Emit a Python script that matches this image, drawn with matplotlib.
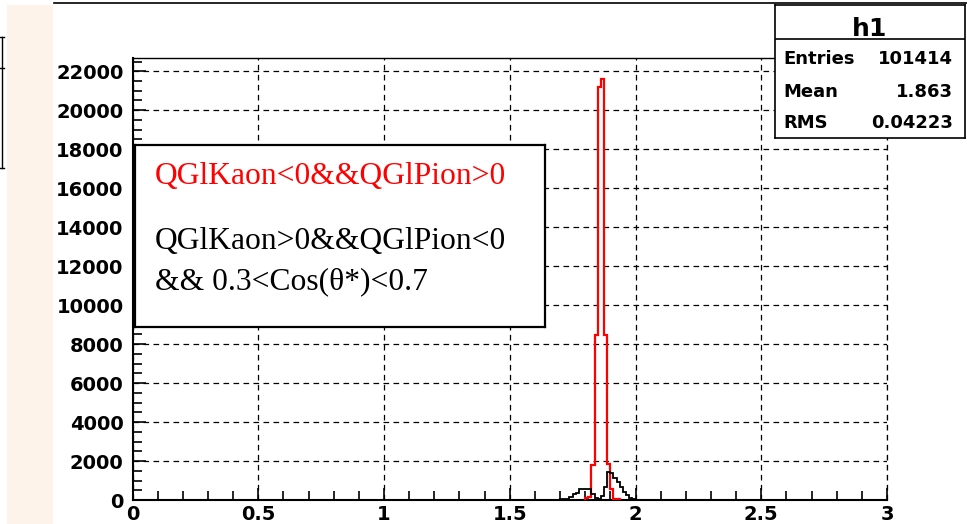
import numpy as np
import matplotlib
matplotlib.use("Agg")
import matplotlib.pyplot as plt
from matplotlib.patches import Rectangle
from matplotlib.ticker import MultipleLocator

W, H = 967, 524
BIN_W = 0.0125

# red: QGlKaon<0&&QGlPion>0, counts per bin from RED_X0
RED_X0 = 1.8
red_counts = [80, 150, 1800, 8450, 21200, 21600, 8450, 1850, 560, 60, 40]
# black: QGlKaon>0&&QGlPion<0 && 0.3<Cos(theta*)<0.7, counts per bin from BLK_X0
BLK_X0 = 1.6625
blk_counts = [20, 25, 25, 30, 35, 60, 150, 330, 380, 540, 560, 550, 540, 330, 100, 30,
              220, 650, 1460, 1380, 1150, 930, 650, 430, 260, 110, 40, 15]

xticks = [0, 0.5, 1, 1.5, 2, 2.5, 3]
xlabels = ["0", "0.5", "1", "1.5", "2", "2.5", "3"]
yticks = list(range(0, 22001, 2000))

stat_names = ["Entries", "Mean", "RMS"]
stat_values = ["101414", "1.863", "0.04223"]
legend_red = "QGlKaon<0&&QGlPion>0"
legend_blk = ["QGlKaon>0&&QGlPion<0", "&& 0.3<Cos(\u03b8*)<0.7"]

fig = plt.figure(figsize=(W / 100, H / 100), dpi=100)

# background decorations in pixel coords
bg = fig.add_axes([0, 0, 1, 1])
bg.set_xlim(0, W); bg.set_ylim(H, 0); bg.axis("off")
bg.add_patch(Rectangle((7, 5), 46, H - 5, color="#fdf3eb", lw=0))
bg.plot([54, W], [3, 3], color="black", lw=1.2)
bg.plot([2, 2], [37, 168], color="black", lw=1.0)
bg.plot([0, 4], [37, 37], color="black", lw=1.0)
bg.plot([0, 4], [68, 68], color="black", lw=1.0)
bg.plot([0, 4], [168, 168], color="black", lw=1.0)

# main histogram frame
ax = fig.add_axes([132.5 / W, 1 - 500 / H, (887 - 132.5) / W, (500 - 58) / H])
red_edges = RED_X0 + BIN_W * np.arange(len(red_counts) + 1)
blk_edges = BLK_X0 + BIN_W * np.arange(len(blk_counts) + 1)
ax.stairs(red_counts, red_edges, color="#ff0000", lw=1.6, zorder=3)
ax.stairs(blk_counts, blk_edges, color="black", lw=1.3, zorder=4)
ax.set_xlim(0, 3); ax.set_ylim(0, 22680)
ax.set_xticks(xticks); ax.set_xticklabels(xlabels)
ax.set_yticks(yticks); ax.set_yticklabels([str(v) for v in yticks])
ax.xaxis.set_minor_locator(MultipleLocator(0.1))
ax.yaxis.set_minor_locator(MultipleLocator(500))
ax.tick_params(which="both", direction="in", top=False, right=False, width=1.2)
ax.tick_params(which="major", length=9)
ax.tick_params(which="minor", length=6.5)
ax.tick_params(axis="y", pad=6.5)
ax.tick_params(axis="x", pad=3.5)
for lab in ax.get_xticklabels() + ax.get_yticklabels():
    lab.set_fontweight("bold"); lab.set_fontsize(14)
ax.grid(True, which="major", color="black", ls=(0, (4.5, 3.5)), lw=0.9)
ax.axvline(3, color="black", ls=(0, (4.5, 3.5)), lw=0.9, clip_on=False)
ax.spines["left"].set_linewidth(1.5)
ax.spines["bottom"].set_linewidth(1.5)
ax.spines["top"].set_linewidth(1.0)
ax.spines["right"].set_visible(False)

# legend box
lg = fig.add_axes([135 / W, 1 - 327 / H, 410 / W, 182 / H])
lg.set_xlim(135, 545); lg.set_ylim(327, 145)
lg.set_xticks([]); lg.set_yticks([])
for s in lg.spines.values():
    s.set_linewidth(1.6)
lg.text(155, 184, legend_red, color="#ff0000", family="Liberation Serif",
        fontsize=22.7, va="baseline")
for txt, yb in zip(legend_blk, [249, 289]):
    lg.text(155, yb, txt, color="black", family="Liberation Serif",
            fontsize=22.7, va="baseline")

# stats box
st = fig.add_axes([775 / W, 1 - 138 / H, 190 / W, 133 / H])
st.set_xlim(775, 965); st.set_ylim(138, 5)
st.set_xticks([]); st.set_yticks([])
for s in st.spines.values():
    s.set_linewidth(1.2)
st.axhline(39, color="black", lw=1.2)
st.text(870, 36, "h1", fontsize=18, fontweight="bold", ha="center", va="baseline")
for name, val, yb in zip(stat_names, stat_values, [64, 97, 128]):
    st.text(783, yb, name, fontsize=13, fontweight="bold", va="baseline")
    st.text(953, yb, val, fontsize=13, fontweight="bold", ha="right", va="baseline")

fig.savefig("out.png", dpi=100)
